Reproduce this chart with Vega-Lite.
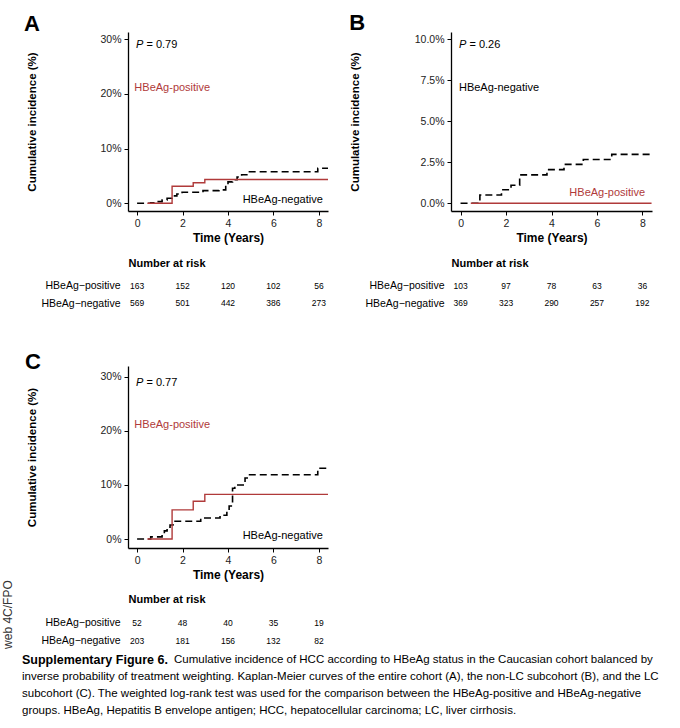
{
  "$schema": "https://vega.github.io/schema/vega-lite/v6.json",
  "width": 680,
  "height": 728,
  "autosize": {"type": "none"},
  "padding": 0,
  "background": "white",
  "config": {
    "font": "Liberation Sans",
    "view": {"stroke": null},
    "text": {"font": "Liberation Sans"},
    "axis": {
      "grid": false,
      "domainColor": "#000000",
      "domainWidth": 1.3,
      "tickColor": "#000000",
      "tickWidth": 1,
      "tickSize": 4,
      "labelPadding": 3,
      "labelFont": "Liberation Sans",
      "labelFontSize": 10.5,
      "labelColor": "#222222",
      "titleFont": "Liberation Sans",
      "titleFontSize": 11.5,
      "titleFontWeight": "bold",
      "titleColor": "#000000"
    }
  },
  "datasets": {
    "kmA": [
      {"t": 0, "pct": 0, "group": "HBeAg-negative"},
      {"t": 0.6, "pct": 0.1, "group": "HBeAg-negative"},
      {"t": 0.88, "pct": 0.3, "group": "HBeAg-negative"},
      {"t": 1.1, "pct": 0.6, "group": "HBeAg-negative"},
      {"t": 1.32, "pct": 0.9, "group": "HBeAg-negative"},
      {"t": 1.54, "pct": 1.35, "group": "HBeAg-negative"},
      {"t": 1.75, "pct": 1.7, "group": "HBeAg-negative"},
      {"t": 1.98, "pct": 2.0, "group": "HBeAg-negative"},
      {"t": 2.9, "pct": 2.3, "group": "HBeAg-negative"},
      {"t": 3.6, "pct": 2.45, "group": "HBeAg-negative"},
      {"t": 3.9, "pct": 3.2, "group": "HBeAg-negative"},
      {"t": 4.0, "pct": 3.9, "group": "HBeAg-negative"},
      {"t": 4.2, "pct": 4.3, "group": "HBeAg-negative"},
      {"t": 4.4, "pct": 4.8, "group": "HBeAg-negative"},
      {"t": 4.6, "pct": 5.2, "group": "HBeAg-negative"},
      {"t": 4.9, "pct": 5.75, "group": "HBeAg-negative"},
      {"t": 7.95, "pct": 6.4, "group": "HBeAg-negative"},
      {"t": 8.4, "pct": 6.4, "group": "HBeAg-negative"},
      {"t": 0.45, "pct": 0, "group": "HBeAg-positive"},
      {"t": 1.54, "pct": 3.1, "group": "HBeAg-positive"},
      {"t": 2.47, "pct": 3.75, "group": "HBeAg-positive"},
      {"t": 2.98, "pct": 4.35, "group": "HBeAg-positive"},
      {"t": 8.4, "pct": 4.35, "group": "HBeAg-positive"}
    ],
    "kmB": [
      {"t": 0, "pct": 0, "group": "HBeAg-negative"},
      {"t": 0.85, "pct": 0.5, "group": "HBeAg-negative"},
      {"t": 1.8, "pct": 0.82, "group": "HBeAg-negative"},
      {"t": 2.22, "pct": 1.1, "group": "HBeAg-negative"},
      {"t": 2.6, "pct": 1.73, "group": "HBeAg-negative"},
      {"t": 3.8, "pct": 2.05, "group": "HBeAg-negative"},
      {"t": 4.55, "pct": 2.37, "group": "HBeAg-negative"},
      {"t": 5.4, "pct": 2.67, "group": "HBeAg-negative"},
      {"t": 6.65, "pct": 2.98, "group": "HBeAg-negative"},
      {"t": 8.4, "pct": 2.98, "group": "HBeAg-negative"},
      {"t": 0.45, "pct": 0, "group": "HBeAg-positive"},
      {"t": 8.4, "pct": 0, "group": "HBeAg-positive"}
    ],
    "kmC": [
      {"t": 0, "pct": 0, "group": "HBeAg-negative"},
      {"t": 0.6, "pct": 0.4, "group": "HBeAg-negative"},
      {"t": 1.1, "pct": 0.9, "group": "HBeAg-negative"},
      {"t": 1.2, "pct": 1.5, "group": "HBeAg-negative"},
      {"t": 1.32, "pct": 2.2, "group": "HBeAg-negative"},
      {"t": 1.45, "pct": 2.6, "group": "HBeAg-negative"},
      {"t": 1.58, "pct": 3.3, "group": "HBeAg-negative"},
      {"t": 2.8, "pct": 3.9, "group": "HBeAg-negative"},
      {"t": 3.65, "pct": 4.4, "group": "HBeAg-negative"},
      {"t": 3.95, "pct": 5.2, "group": "HBeAg-negative"},
      {"t": 4.05, "pct": 6.1, "group": "HBeAg-negative"},
      {"t": 4.2, "pct": 9.4, "group": "HBeAg-negative"},
      {"t": 4.3, "pct": 10.0, "group": "HBeAg-negative"},
      {"t": 4.75, "pct": 11.3, "group": "HBeAg-negative"},
      {"t": 4.9, "pct": 11.9, "group": "HBeAg-negative"},
      {"t": 7.95, "pct": 13.1, "group": "HBeAg-negative"},
      {"t": 8.4, "pct": 13.1, "group": "HBeAg-negative"},
      {"t": 0.45, "pct": 0, "group": "HBeAg-positive"},
      {"t": 1.54, "pct": 5.4, "group": "HBeAg-positive"},
      {"t": 2.47, "pct": 7.0, "group": "HBeAg-positive"},
      {"t": 2.98, "pct": 8.25, "group": "HBeAg-positive"},
      {"t": 8.4, "pct": 8.25, "group": "HBeAg-positive"}
    ],
    "noteA": [
      {"key": "letter", "label": "A", "t": -4.98, "pct": 31.5},
      {"key": "P", "label": "P", "t": -0.05, "pct": 28.95},
      {"key": "pval", "label": "= 0.79", "t": -0.05, "pct": 28.95},
      {"key": "pos", "label": "HBeAg-positive", "t": -0.12, "pct": 21.0},
      {"key": "negR", "label": "HBeAg-negative", "t": 8.17, "pct": 0.6}
    ],
    "noteB": [
      {"key": "letter", "label": "B", "t": -4.9, "pct": 10.57},
      {"key": "P", "label": "P", "t": -0.07, "pct": 9.65},
      {"key": "pval", "label": "= 0.26", "t": -0.07, "pct": 9.65},
      {"key": "negL", "label": "HBeAg-negative", "t": -0.07, "pct": 7.0},
      {"key": "posR", "label": "HBeAg-positive", "t": 8.12, "pct": 0.61}
    ],
    "noteC": [
      {"key": "letter", "label": "C", "t": -4.93, "pct": 31.4},
      {"key": "P", "label": "P", "t": -0.05, "pct": 28.8},
      {"key": "pval", "label": "= 0.77", "t": -0.05, "pct": 28.8},
      {"key": "pos", "label": "HBeAg-positive", "t": -0.12, "pct": 21.1},
      {"key": "negR", "label": "HBeAg-negative", "t": 8.17, "pct": 0.6},
      {"key": "web", "label": "web 4C/FPO", "t": -5.66, "pct": -13.97}
    ],
    "riskA": [
      {"t": 0, "group": "HBeAg−positive", "n": 163},
      {"t": 2, "group": "HBeAg−positive", "n": 152},
      {"t": 4, "group": "HBeAg−positive", "n": 120},
      {"t": 6, "group": "HBeAg−positive", "n": 102},
      {"t": 8, "group": "HBeAg−positive", "n": 56},
      {"t": 0, "group": "HBeAg−negative", "n": 569},
      {"t": 2, "group": "HBeAg−negative", "n": 501},
      {"t": 4, "group": "HBeAg−negative", "n": 442},
      {"t": 6, "group": "HBeAg−negative", "n": 386},
      {"t": 8, "group": "HBeAg−negative", "n": 273}
    ],
    "riskB": [
      {"t": 0, "group": "HBeAg−positive", "n": 103},
      {"t": 2, "group": "HBeAg−positive", "n": 97},
      {"t": 4, "group": "HBeAg−positive", "n": 78},
      {"t": 6, "group": "HBeAg−positive", "n": 63},
      {"t": 8, "group": "HBeAg−positive", "n": 36},
      {"t": 0, "group": "HBeAg−negative", "n": 369},
      {"t": 2, "group": "HBeAg−negative", "n": 323},
      {"t": 4, "group": "HBeAg−negative", "n": 290},
      {"t": 6, "group": "HBeAg−negative", "n": 257},
      {"t": 8, "group": "HBeAg−negative", "n": 192}
    ],
    "riskC": [
      {"t": 0, "group": "HBeAg−positive", "n": 52},
      {"t": 2, "group": "HBeAg−positive", "n": 48},
      {"t": 4, "group": "HBeAg−positive", "n": 40},
      {"t": 6, "group": "HBeAg−positive", "n": 35},
      {"t": 8, "group": "HBeAg−positive", "n": 19},
      {"t": 0, "group": "HBeAg−negative", "n": 203},
      {"t": 2, "group": "HBeAg−negative", "n": 181},
      {"t": 4, "group": "HBeAg−negative", "n": 156},
      {"t": 6, "group": "HBeAg−negative", "n": 132},
      {"t": 8, "group": "HBeAg−negative", "n": 82}
    ],
    "caption": [
      {"line": 1, "part": "head", "text": "Supplementary Figure 6."},
      {"line": 1, "part": "body", "text": "Cumulative incidence of HCC according to HBeAg status in the Caucasian cohort balanced by"},
      {"line": 2, "part": "body", "text": "inverse probability of treatment weighting. Kaplan-Meier curves of the entire cohort (A), the non-LC subcohort (B), and the LC"},
      {"line": 3, "part": "body", "text": "subcohort (C). The weighted log-rank test was used for the comparison between the HBeAg-positive and HBeAg-negative"},
      {"line": 4, "part": "body", "text": "groups. HBeAg, Hepatitis B envelope antigen; HCC, hepatocellular carcinoma; LC, liver cirrhosis."}
    ]
  },
  "resolve": {"scale": {"x": "independent", "y": "independent"}},
  "layer": [
    {
      "encoding": {
        "x": {"field": "t", "type": "quantitative", "scale": {"domain": [-0.4, 8.4], "range": [128, 328], "nice": false, "zero": false},
              "axis": {"orient": "bottom", "offset": -517, "values": [0, 2, 4, 6, 8], "title": "Time (Years)", "titleY": 30.5, "titleBaseline": "alphabetic", "titleFontSize": 12}},
        "y": {"field": "pct", "type": "quantitative", "scale": {"domain": [-1.42, 31.3], "range": [211, 32], "nice": false, "zero": false},
              "axis": {"orient": "left", "offset": -128, "values": [0, 10, 20, 30], "labelExpr": "datum.value + '%'", "title": "Cumulative incidence (%)", "titleX": -93, "titleBaseline": "alphabetic"}}
      },
      "layer": [
        {"data": {"name": "kmA"}, "transform": [{"filter": "datum.group === 'HBeAg-negative'"}], "mark": {"type": "line", "interpolate": "step-after", "strokeWidth": 1.6, "color": "#000000", "strokeDash": [7, 4]}},
        {"data": {"name": "kmA"}, "transform": [{"filter": "datum.group === 'HBeAg-positive'"}], "mark": {"type": "line", "interpolate": "step-after", "strokeWidth": 1.4, "color": "#B03A3A"}},
        {"data": {"name": "noteA"}, "transform": [{"filter": "datum.key === 'letter'"}], "mark": {"type": "text", "fontSize": 22, "fontWeight": "bold", "align": "left", "baseline": "alphabetic", "color": "#000000"}, "encoding": {"text": {"field": "label"}}},
        {"data": {"name": "noteA"}, "transform": [{"filter": "datum.key === 'P'"}], "mark": {"type": "text", "fontStyle": "italic", "fontSize": 11, "align": "left", "baseline": "middle", "color": "#000000"}, "encoding": {"text": {"field": "label"}}},
        {"data": {"name": "noteA"}, "transform": [{"filter": "datum.key === 'pval'"}], "mark": {"type": "text", "fontSize": 11, "align": "left", "baseline": "middle", "dx": 10.5, "color": "#000000"}, "encoding": {"text": {"field": "label"}}},
        {"data": {"name": "noteA"}, "transform": [{"filter": "datum.key === 'pos'"}], "mark": {"type": "text", "fontSize": 11, "align": "left", "baseline": "middle", "color": "#B03A3A"}, "encoding": {"text": {"field": "label"}}},
        {"data": {"name": "noteA"}, "transform": [{"filter": "datum.key === 'negR'"}], "mark": {"type": "text", "fontSize": 11, "align": "right", "baseline": "middle", "color": "#000000"}, "encoding": {"text": {"field": "label"}}}
      ]
    },
    {
      "data": {"name": "riskA"},
      "mark": {"type": "text", "fontSize": 8.5, "color": "#000000", "baseline": "middle", "align": "center"},
      "encoding": {
        "x": {"field": "t", "type": "quantitative", "scale": {"domain": [-0.4, 8.4], "range": [128, 328], "nice": false, "zero": false}, "axis": null},
        "y": {"field": "group", "type": "nominal", "scale": {"type": "point", "domain": ["HBeAg−positive", "HBeAg−negative"], "range": [285.7, 303.3], "padding": 0},
              "axis": {"orient": "left", "offset": -128, "domain": false, "ticks": false, "labelPadding": 8, "labelFontSize": 10.5, "labelColor": "#000000", "title": "Number at risk", "titleAngle": 0, "titleAlign": "left", "titleBaseline": "alphabetic", "titleX": 0, "titleY": 266.3, "titleFontSize": 11}},
        "text": {"field": "n", "type": "quantitative"}
      }
    },
    {
      "encoding": {
        "x": {"field": "t", "type": "quantitative", "scale": {"domain": [-0.42, 8.42], "range": [451, 652], "nice": false, "zero": false},
              "axis": {"orient": "bottom", "offset": -517, "values": [0, 2, 4, 6, 8], "title": "Time (Years)", "titleY": 30.5, "titleBaseline": "alphabetic", "titleFontSize": 12}},
        "y": {"field": "pct", "type": "quantitative", "scale": {"domain": [-0.47, 10.43], "range": [211, 32], "nice": false, "zero": false},
              "axis": {"orient": "left", "offset": -451, "values": [0, 2.5, 5, 7.5, 10], "labelExpr": "format(datum.value, '.1f') + '%'", "title": "Cumulative incidence (%)", "titleX": -93, "titleBaseline": "alphabetic"}}
      },
      "layer": [
        {"data": {"name": "kmB"}, "transform": [{"filter": "datum.group === 'HBeAg-negative'"}], "mark": {"type": "line", "interpolate": "step-after", "strokeWidth": 1.6, "color": "#000000", "strokeDash": [7, 4]}},
        {"data": {"name": "kmB"}, "transform": [{"filter": "datum.group === 'HBeAg-positive'"}], "mark": {"type": "line", "interpolate": "step-after", "strokeWidth": 1.4, "color": "#B03A3A"}},
        {"data": {"name": "noteB"}, "transform": [{"filter": "datum.key === 'letter'"}], "mark": {"type": "text", "fontSize": 22, "fontWeight": "bold", "align": "left", "baseline": "alphabetic", "color": "#000000"}, "encoding": {"text": {"field": "label"}}},
        {"data": {"name": "noteB"}, "transform": [{"filter": "datum.key === 'P'"}], "mark": {"type": "text", "fontStyle": "italic", "fontSize": 11, "align": "left", "baseline": "middle", "color": "#000000"}, "encoding": {"text": {"field": "label"}}},
        {"data": {"name": "noteB"}, "transform": [{"filter": "datum.key === 'pval'"}], "mark": {"type": "text", "fontSize": 11, "align": "left", "baseline": "middle", "dx": 10.5, "color": "#000000"}, "encoding": {"text": {"field": "label"}}},
        {"data": {"name": "noteB"}, "transform": [{"filter": "datum.key === 'negL'"}], "mark": {"type": "text", "fontSize": 11, "align": "left", "baseline": "middle", "color": "#000000"}, "encoding": {"text": {"field": "label"}}},
        {"data": {"name": "noteB"}, "transform": [{"filter": "datum.key === 'posR'"}], "mark": {"type": "text", "fontSize": 11, "align": "right", "baseline": "middle", "color": "#B03A3A"}, "encoding": {"text": {"field": "label"}}}
      ]
    },
    {
      "data": {"name": "riskB"},
      "mark": {"type": "text", "fontSize": 8.5, "color": "#000000", "baseline": "middle", "align": "center"},
      "encoding": {
        "x": {"field": "t", "type": "quantitative", "scale": {"domain": [-0.42, 8.42], "range": [451, 652], "nice": false, "zero": false}, "axis": null},
        "y": {"field": "group", "type": "nominal", "scale": {"type": "point", "domain": ["HBeAg−positive", "HBeAg−negative"], "range": [285.7, 303.3], "padding": 0},
              "axis": {"orient": "left", "offset": -451, "domain": false, "ticks": false, "labelPadding": 7, "labelFontSize": 10.5, "labelColor": "#000000", "title": "Number at risk", "titleAngle": 0, "titleAlign": "left", "titleBaseline": "alphabetic", "titleX": 0, "titleY": 266.3, "titleFontSize": 11}},
        "text": {"field": "n", "type": "quantitative"}
      }
    },
    {
      "encoding": {
        "x": {"field": "t", "type": "quantitative", "scale": {"domain": [-0.4, 8.4], "range": [128, 328], "nice": false, "zero": false},
              "axis": {"orient": "bottom", "offset": -180, "values": [0, 2, 4, 6, 8], "title": "Time (Years)", "titleY": 30.5, "titleBaseline": "alphabetic", "titleFontSize": 12}},
        "y": {"field": "pct", "type": "quantitative", "scale": {"domain": [-1.66, 32.0], "range": [548, 366], "nice": false, "zero": false},
              "axis": {"orient": "left", "offset": -128, "values": [0, 10, 20, 30], "labelExpr": "datum.value + '%'", "title": "Cumulative incidence (%)", "titleX": -93, "titleBaseline": "alphabetic"}}
      },
      "layer": [
        {"data": {"name": "kmC"}, "transform": [{"filter": "datum.group === 'HBeAg-negative'"}], "mark": {"type": "line", "interpolate": "step-after", "strokeWidth": 1.6, "color": "#000000", "strokeDash": [7, 4]}},
        {"data": {"name": "kmC"}, "transform": [{"filter": "datum.group === 'HBeAg-positive'"}], "mark": {"type": "line", "interpolate": "step-after", "strokeWidth": 1.4, "color": "#B03A3A"}},
        {"data": {"name": "noteC"}, "transform": [{"filter": "datum.key === 'letter'"}], "mark": {"type": "text", "fontSize": 22, "fontWeight": "bold", "align": "left", "baseline": "alphabetic", "color": "#000000"}, "encoding": {"text": {"field": "label"}}},
        {"data": {"name": "noteC"}, "transform": [{"filter": "datum.key === 'P'"}], "mark": {"type": "text", "fontStyle": "italic", "fontSize": 11, "align": "left", "baseline": "middle", "color": "#000000"}, "encoding": {"text": {"field": "label"}}},
        {"data": {"name": "noteC"}, "transform": [{"filter": "datum.key === 'pval'"}], "mark": {"type": "text", "fontSize": 11, "align": "left", "baseline": "middle", "dx": 10.5, "color": "#000000"}, "encoding": {"text": {"field": "label"}}},
        {"data": {"name": "noteC"}, "transform": [{"filter": "datum.key === 'pos'"}], "mark": {"type": "text", "fontSize": 11, "align": "left", "baseline": "middle", "color": "#B03A3A"}, "encoding": {"text": {"field": "label"}}},
        {"data": {"name": "noteC"}, "transform": [{"filter": "datum.key === 'negR'"}], "mark": {"type": "text", "fontSize": 11, "align": "right", "baseline": "middle", "color": "#000000"}, "encoding": {"text": {"field": "label"}}},
        {"data": {"name": "noteC"}, "transform": [{"filter": "datum.key === 'web'"}], "mark": {"type": "text", "fontSize": 12, "angle": 270, "align": "center", "baseline": "middle", "color": "#333333"}, "encoding": {"text": {"field": "label"}}}
      ]
    },
    {
      "data": {"name": "riskC"},
      "mark": {"type": "text", "fontSize": 8.5, "color": "#000000", "baseline": "middle", "align": "center"},
      "encoding": {
        "x": {"field": "t", "type": "quantitative", "scale": {"domain": [-0.4, 8.4], "range": [128, 328], "nice": false, "zero": false}, "axis": null},
        "y": {"field": "group", "type": "nominal", "scale": {"type": "point", "domain": ["HBeAg−positive", "HBeAg−negative"], "range": [622.7, 640.7], "padding": 0},
              "axis": {"orient": "left", "offset": -128, "domain": false, "ticks": false, "labelPadding": 8, "labelFontSize": 10.5, "labelColor": "#000000", "title": "Number at risk", "titleAngle": 0, "titleAlign": "left", "titleBaseline": "alphabetic", "titleX": 0, "titleY": 602.3, "titleFontSize": 11}},
        "text": {"field": "n", "type": "quantitative"}
      }
    },
    {
      "data": {"name": "caption"},
      "encoding": {
        "x": {"datum": 0, "type": "quantitative", "scale": {"domain": [0, 1], "range": [22, 655], "nice": false, "zero": false}, "axis": null},
        "y": {"field": "line", "type": "ordinal", "scale": {"type": "point", "domain": [1, 2, 3, 4], "range": [660, 711], "padding": 0}, "axis": null},
        "text": {"field": "text", "type": "nominal"}
      },
      "layer": [
        {"transform": [{"filter": "datum.part === 'head'"}], "mark": {"type": "text", "fontSize": 12.5, "fontWeight": "bold", "align": "left", "baseline": "middle", "color": "#000000"}},
        {"transform": [{"filter": "datum.part === 'body' && datum.line === 1"}], "mark": {"type": "text", "fontSize": 11.5, "align": "left", "baseline": "middle", "dx": 152, "color": "#000000"}},
        {"transform": [{"filter": "datum.part === 'body' && datum.line > 1"}], "mark": {"type": "text", "fontSize": 11.5, "align": "left", "baseline": "middle", "color": "#000000"}}
      ]
    }
  ]
}
